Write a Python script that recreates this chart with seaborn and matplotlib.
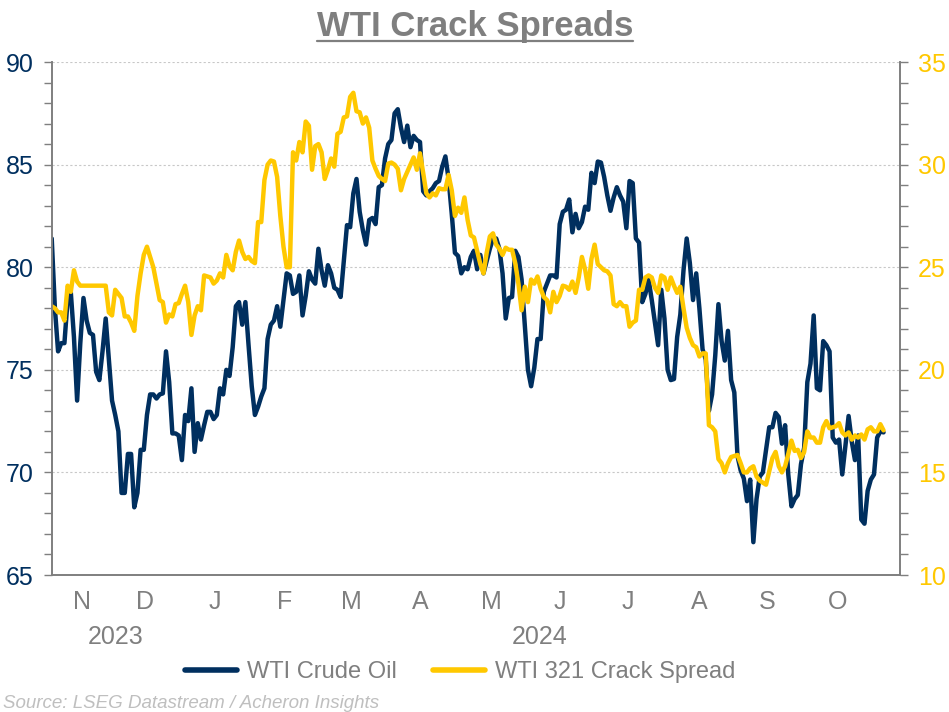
import numpy as np
import pandas as pd
import matplotlib
matplotlib.use('Agg')
import matplotlib.pyplot as plt
from matplotlib.lines import Line2D
from matplotlib.ticker import MultipleLocator
import seaborn as sns

# daily (weekday) series, first value on Mon 6 Nov 2023
start_date = '2023-11-06'

wti = [
    # Nov 2023
    81.4, 78.0, 75.9, 76.3, 76.3, 78.4, 78.8, 76.6, 73.5, 76.3, 78.5, 77.4, 76.8, 76.7, 74.9, 74.5, 75.9, 77.5, 75.5,
    # Dec 2023
    73.5, 72.8, 72.0, 69.0, 69.0, 70.9, 70.9, 68.3, 69.0, 71.1, 71.1, 72.8, 73.8, 73.8, 73.6, 73.8, 73.85, 75.9, 74.4, 71.9, 71.9,
    # Jan 2024
    71.8, 70.6, 72.8, 72.5, 74.1, 71.0, 72.4, 71.6, 72.3, 72.95, 72.95, 72.6, 72.8, 74.1, 73.8, 75.0, 74.7, 76.1, 78.1, 78.3, 77.2, 78.3, 76.2,
    # Feb
    74.2, 72.8, 73.2, 73.7, 74.1, 76.5, 77.2, 77.4, 78.1, 77.1, 78.4, 79.7, 79.6, 78.7, 78.8, 79.6, 77.65, 78.6, 79.8, 79.4, 79.2,
    # Mar
    80.9, 79.85, 79.1, 80.1, 79.7, 79.0, 78.9, 78.55, 80.3, 82.05, 81.95, 83.6, 84.3, 82.7, 81.8, 81.1, 82.3, 82.4, 82.1, 83.9, 84.0,
    # Apr
    85.3, 86.0, 86.2, 87.5, 87.7, 86.8, 86.1, 86.9, 85.85, 86.4, 86.2, 86.1, 83.7, 83.5, 83.7, 83.85, 84.1, 84.2, 84.9, 85.4, 84.3, 82.6,
    # May
    80.7, 80.55, 79.7, 80.0, 79.9, 80.5, 80.8, 79.9, 80.6, 79.7, 80.3, 80.9, 81.4, 81.4, 80.9, 79.7, 77.5, 78.5, 78.55, 80.8, 80.5, 79.4, 77.2,
    # Jun
    75.0, 74.2, 75.1, 76.5, 76.5, 78.8, 79.2, 79.6, 79.6, 79.5, 82.1, 82.7, 82.8, 83.3, 81.7, 82.6, 81.9, 82.2, 82.95, 82.8,
    # Jul
    84.6, 84.1, 85.15, 85.1, 84.4, 83.5, 82.75, 83.4, 83.9, 83.5, 83.2, 81.9, 84.2, 84.1, 81.4, 81.2, 78.3, 78.7, 79.4, 78.4, 77.3, 76.2, 78.9,
    # Aug
    77.5, 75.0, 74.5, 74.55, 76.6, 77.7, 79.85, 81.4, 80.2, 78.4, 79.7, 78.0, 76.0, 75.5, 73.0, 73.8, 75.7, 78.2, 76.4, 75.45, 76.9, 74.5,
    # Sep
    73.9, 70.8, 70.1, 69.7, 68.6, 69.65, 66.6, 68.7, 69.8, 70.0, 71.1, 72.2, 72.2, 72.9, 72.7, 71.4, 72.3, 69.9, 68.35, 68.7, 68.9,
    # Oct
    70.4, 71.2, 74.4, 75.3, 77.65, 74.1, 74.0, 76.4, 76.2, 75.9, 71.7, 71.45, 71.6, 69.9, 71.3, 72.75, 71.5, 70.6, 71.8, 67.7, 67.5, 69.1, 69.65,
    # Nov 2024
    69.9, 71.7, 72.0, 71.95,
]

crack = [
    # Nov 2023
    23.1, 23.0, 22.8, 22.8, 22.4, 24.1, 23.8, 24.85, 24.3, 24.1, 24.1, 24.1, 24.1, 24.1, 24.1, 24.1, 24.1, 24.1, 22.8,
    # Dec 2023
    22.65, 23.9, 23.7, 23.5, 22.6, 22.6, 22.3, 21.9, 23.6, 24.7, 25.6, 26.0, 25.5, 25.0, 24.2, 23.4, 23.3, 22.3, 22.7, 22.6, 23.2,
    # Jan 2024
    23.25, 23.7, 24.1, 23.3, 21.7, 22.65, 23.1, 22.9, 24.6, 24.55, 24.5, 24.2, 24.35, 24.7, 24.5, 25.6, 25.05, 24.85, 25.75, 26.3, 25.75, 25.4, 25.5,
    # Feb
    25.3, 25.2, 27.2, 27.2, 29.25, 30.0, 30.2, 30.15, 29.4, 27.5, 26.0, 25.0, 25.0, 30.6, 30.2, 31.1, 30.6, 32.1, 31.9, 29.75, 30.9,
    # Mar
    31.0, 30.6, 29.3, 29.75, 30.3, 29.9, 31.5, 31.6, 32.3, 32.35, 33.3, 33.5, 32.6, 32.55, 32.0, 32.3, 31.8, 30.2, 29.8, 29.45, 29.3,
    # Apr
    29.2, 30.05, 30.1, 30.0, 29.8, 28.75, 29.3, 29.65, 30.0, 30.35, 29.75, 30.55, 29.6, 28.6, 28.4, 28.6, 28.5, 28.85, 28.8, 28.8, 29.5, 28.75,
    # May
    27.5, 27.9, 27.65, 28.4, 27.3, 26.55, 26.45, 25.8, 25.15, 24.7, 25.7, 26.5, 26.65, 26.1, 25.9, 25.6, 25.95, 25.85, 25.85, 25.2, 24.2, 22.9, 24.05,
    # Jun
    23.3, 24.4, 24.2, 24.55, 23.95, 23.55, 23.4, 22.8, 23.8, 23.3, 23.6, 24.1, 24.05, 23.9, 24.3, 23.75, 24.5, 25.5, 24.9, 23.95,
    # Jul
    25.4, 26.1, 25.15, 25.0, 24.85, 24.8, 24.6, 23.2, 23.1, 23.3, 23.1, 23.1, 22.1, 22.3, 22.4, 23.9, 23.9, 24.5, 24.6, 24.5, 24.0, 23.75, 24.6,
    # Aug
    24.5, 23.9, 24.5, 24.1, 23.75, 24.05, 23.0, 22.05, 21.55, 21.2, 21.1, 20.65, 20.8, 20.8, 17.3, 17.2, 17.0, 15.65, 15.45, 15.0, 15.45, 15.75,
    # Sep
    15.8, 15.85, 15.45, 15.0, 15.0, 15.2, 15.3, 14.8, 14.6, 14.5, 14.4, 15.05, 15.7, 16.0, 15.3, 15.0, 15.3, 15.9, 16.55, 16.05, 16.1,
    # Oct
    15.7, 16.0, 17.0, 16.7, 16.7, 16.45, 16.45, 17.2, 17.5, 17.15, 17.2, 17.25, 17.4, 16.95, 16.8, 16.95, 16.6, 16.8, 16.7, 16.85, 16.6, 17.1, 17.2,
    # Nov 2024
    17.0, 17.0, 17.35, 17.05,
]

month_letters = ['N', 'D', 'J', 'F', 'M', 'A', 'M', 'J', 'J', 'A', 'S', 'O']
year_labels = ['2023', '2024']

dates = pd.bdate_range(start_date, periods=len(wti))
df = pd.DataFrame({'date': dates, 'pos': np.arange(len(dates)), 'wti': wti, 'crack': crack})

sns.set_style('white')
plt.rcParams['font.family'] = ['Liberation Sans', 'DejaVu Sans']

navy = '#002f5f'
gold = '#ffc800'
grey = '#7f7f7f'
x_end = 267.2

fig = plt.figure(figsize=(9.49, 7.12), dpi=100)
ax = fig.add_axes([0.0545, 0.1924, 0.8939, 0.7205])
ax2 = ax.twinx()

sns.lineplot(data=df, x='pos', y='wti', ax=ax, color=navy, lw=3.2)
sns.lineplot(data=df, x='pos', y='crack', ax=ax2, color=gold, lw=3.2)

# month boundaries on a trading-day axis
month_id = df['date'].dt.to_period('M')
starts = list(df.index[month_id != month_id.shift()])
mids = [(starts[k] + starts[k + 1]) / 2 for k in range(len(month_letters))]

ax.set_xlim(0, x_end)
ax.set_xticks(starts[1:])
ax.set_xticklabels([])
ax.set_xticks(mids, minor=True)
ax.set_xticklabels(month_letters, minor=True)
ax.tick_params(axis='x', which='major', length=5, width=1, color=grey, direction='out')
ax.tick_params(axis='x', which='minor', length=0, pad=11, labelsize=18, labelcolor=grey)

jan = starts[2]
ax.text(jan / 2, -0.121, year_labels[0], transform=ax.get_xaxis_transform(),
        ha='center', va='center', fontsize=18, color=grey)
ax.text((jan + x_end) / 2, -0.121, year_labels[1], transform=ax.get_xaxis_transform(),
        ha='center', va='center', fontsize=18, color=grey)

ax.set_ylim(65, 90)
ax2.set_ylim(10, 35)
for a, col in [(ax, navy), (ax2, gold)]:
    a.yaxis.set_major_locator(MultipleLocator(5))
    a.yaxis.set_minor_locator(MultipleLocator(1))
    a.tick_params(axis='y', which='both', direction='out', length=6, width=1,
                  color=grey, labelcolor=col, labelsize=18, pad=7)
    a.set_xlabel('')
    a.set_ylabel('')
    a.spines['top'].set_visible(False)
    for s in ['left', 'right', 'bottom']:
        a.spines[s].set_color(grey)
        a.spines[s].set_linewidth(1.2)

ax.yaxis.grid(True, which='major', color='#c8c8c8', linestyle=(0, (2, 2)), lw=0.8)
ax.xaxis.grid(False)

handles = [Line2D([0], [0], color=navy, lw=4), Line2D([0], [0], color=gold, lw=4)]
fig.legend(handles, ['WTI Crude Oil', 'WTI 321 Crack Spread'], loc='center',
           bbox_to_anchor=(0.485, 0.056), ncol=2, frameon=False, fontsize=17,
           handlelength=2.2, handletextpad=0.45, columnspacing=1.5, labelcolor=grey)

title = fig.text(0.5005, 1 - 36 / 712, 'WTI Crack Spreads', ha='center', va='baseline',
                 fontsize=25, fontweight='bold', color=grey)
fig.canvas.draw()
bb = title.get_window_extent()
W, H = fig.canvas.get_width_height()
uy = 1 - 40.5 / 712
fig.add_artist(Line2D([bb.x0 / W, bb.x1 / W], [uy, uy], transform=fig.transFigure,
                      color=grey, lw=1.6))

fig.text(0.003, 1 - 703 / 712, 'Source: LSEG Datastream / Acheron Insights', ha='left',
         va='center', fontsize=13.5, style='italic', color='#bfbfbf')

plt.savefig('out.png', dpi=100)
